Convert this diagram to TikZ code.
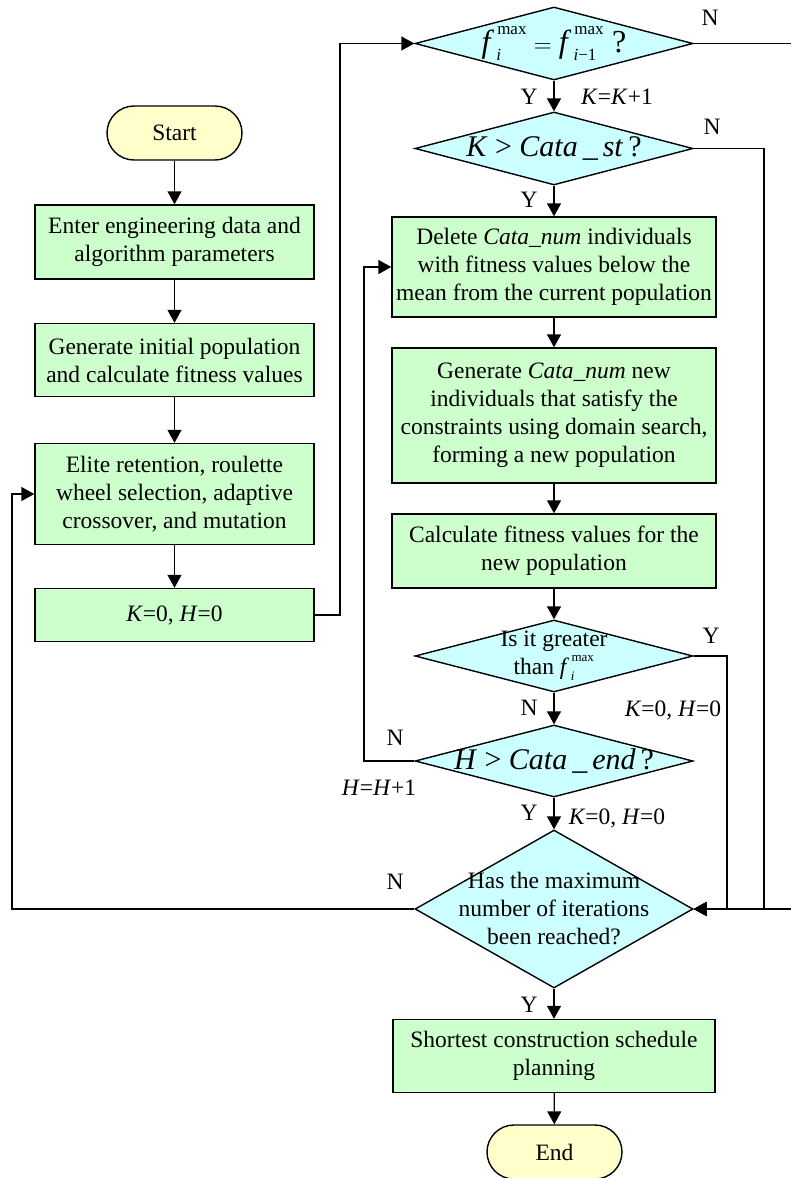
\documentclass[tikz,border=0pt]{standalone}
\usepackage{amsmath}
\usepackage{fontspec}
\setmainfont{Liberation Serif}
\usetikzlibrary{shapes.geometric,arrows.meta}

\definecolor{boxgreen}{RGB}{204,255,204}
\definecolor{decblue}{RGB}{204,255,255}
\definecolor{termyellow}{RGB}{255,255,204}

% f with "max" on top and an index below, scripts at size #1
\newcommand{\fmax}[2]{\textit{f}^{\mbox{\fontsize{#1}{#1}\selectfont\kern0.4em\raisebox{0.25em}{max}}}_{\mbox{\fontsize{#1}{#1}\selectfont\kern0.35em#2}}}

\tikzset{
  base/.style={draw,line width=1.4pt,font=\fontsize{23.5}{28}\selectfont},
  proc/.style={base,rectangle,fill=boxgreen,align=center,inner sep=2pt},
  term/.style={base,rectangle,rounded corners=27pt,fill=termyellow,minimum width=135pt,minimum height=54pt},
  dec/.style={base,diamond,fill=decblue,inner sep=0pt,minimum width=278pt},
  lbl/.style={font=\fontsize{23.5}{28}\selectfont,inner sep=0pt},
  big/.style={font=\fontsize{30}{34}\selectfont,inner sep=0pt},
  arr/.style={line width=1.4pt,-{Triangle[length=13pt,width=14pt]}}
}

\begin{document}
\begin{tikzpicture}[x=1pt,y=-1pt]
\useasboundingbox (0,0) rectangle (790,1178);

% left column
\node[term] (start) at (174.5,133) {Start};
\node[proc,minimum width=279pt,minimum height=74pt] (b1) at (174.5,242) {Enter engineering data and\\algorithm parameters};
\node[proc,minimum width=279pt,minimum height=73pt] (b2) at (174.5,360) {Generate initial population\\and calculate fitness values};
\node[proc,minimum width=279pt,minimum height=101pt] (b3) at (174.5,494) {Elite retention, roulette\\wheel selection, adaptive\\crossover, and mutation};
\node[proc,minimum width=279pt,minimum height=53pt] (b4) at (174.5,615) {\textit{K}=0, \textit{H}=0};

% right column
\node[dec,minimum height=73pt] (d1) at (554,43.5) {};
\node[big,font=\fontsize{32}{36}\selectfont] at (d1) {$\fmax{17}{\textit{i}}=\fmax{17}{\textit{i}−1}$ ?};
\node[dec,minimum height=73pt] (d2) at (554,148.5) {};
\node[big] at (d2) {\textit{K} > \textit{Cata\,\_\,st}\,?};
\node[proc,minimum width=324pt,minimum height=100pt] (c1) at (554,267) {Delete \textit{Cata\_num} individuals\\with fitness values below the\\mean from the current population};
\node[proc,minimum width=324pt,minimum height=135pt] (c2) at (554,415.5) {Generate \textit{Cata\_num} new\\individuals that satisfy the\\constraints using domain search,\\forming a new population};
\node[proc,minimum width=324pt,minimum height=74pt] (c3) at (554,551) {Calculate fitness values for the\\new population};
\node[dec,minimum height=72pt] (d3) at (554,656) {};
\node[lbl,align=center] at (d3) {Is it greater\\than $\fmax{13}{\textit{i}}$};
\node[dec,minimum height=72pt] (d4) at (554,761) {};
\node[big] at (d4) {\textit{H} > \textit{Cata\,\_\,end}\,?};
\node[dec,minimum height=158pt] (d5) at (554,909) {};
\node[lbl,align=center] at (d5) {Has the maximum\\number of iterations\\been reached?};
\node[proc,minimum width=322pt,minimum height=73pt] (sh) at (554,1056) {Shortest construction schedule\\planning};
\node[term] (end) at (554.5,1152) {End};

% turning points
\coordinate (lA) at (12,0);
\coordinate (lC) at (340,0);
\coordinate (lB) at (364,0);
\coordinate (rC) at (727,0);
\coordinate (rB) at (764,0);
\coordinate (rA) at (795,0);

% straight flow
\draw[arr] (start) -- (b1);
\draw[arr] (b1) -- (b2);
\draw[arr] (b2) -- (b3);
\draw[arr] (b3) -- (b4);
\draw[arr] (d1) -- (d2);
\draw[arr] (d2) -- (c1);
\draw[arr] (c1) -- (c2);
\draw[arr] (c2) -- (c3);
\draw[arr] (c3) -- (d3);
\draw[arr] (d3) -- (d4);
\draw[arr] (d4) -- (d5);
\draw[arr] (d5) -- (sh);
\draw[arr] (sh) -- (end);

% loops
\draw[arr] (b4.east) -| (lC |- d1.west) -- (d1.west);
\draw[arr] (d1.east) -| (rA |- d5.east) -- (d5.east);
\draw[arr] (d2.east) -| (rB |- d5.east) -- (d5.east);
\draw[arr] (d3.east) -| (rC |- d5.east) -- (d5.east);
\draw[arr] (d4.west) -| (lB |- c1.west) -- (c1.west);
\draw[arr] (d5.west) -| (lA |- b3.west) -- (b3.west);

% labels
\node[lbl] at (710,18) {N};
\node[lbl] at (529,97) {Y};
\node[lbl] at (617,97) {\textit{K}=\textit{K}+1};
\node[lbl] at (712,127) {N};
\node[lbl] at (529,200) {Y};
\node[lbl] at (711,636) {Y};
\node[lbl] at (529,708) {N};
\node[lbl] at (673,710) {\textit{K}=0, \textit{H}=0};
\node[lbl] at (395,738) {N};
\node[lbl] at (379,788) {\textit{H}=\textit{H}+1};
\node[lbl] at (529,813) {Y};
\node[lbl] at (617,818) {\textit{K}=0, \textit{H}=0};
\node[lbl] at (395,882) {N};
\node[lbl] at (529,1005) {Y};

\end{tikzpicture}
\end{document}
